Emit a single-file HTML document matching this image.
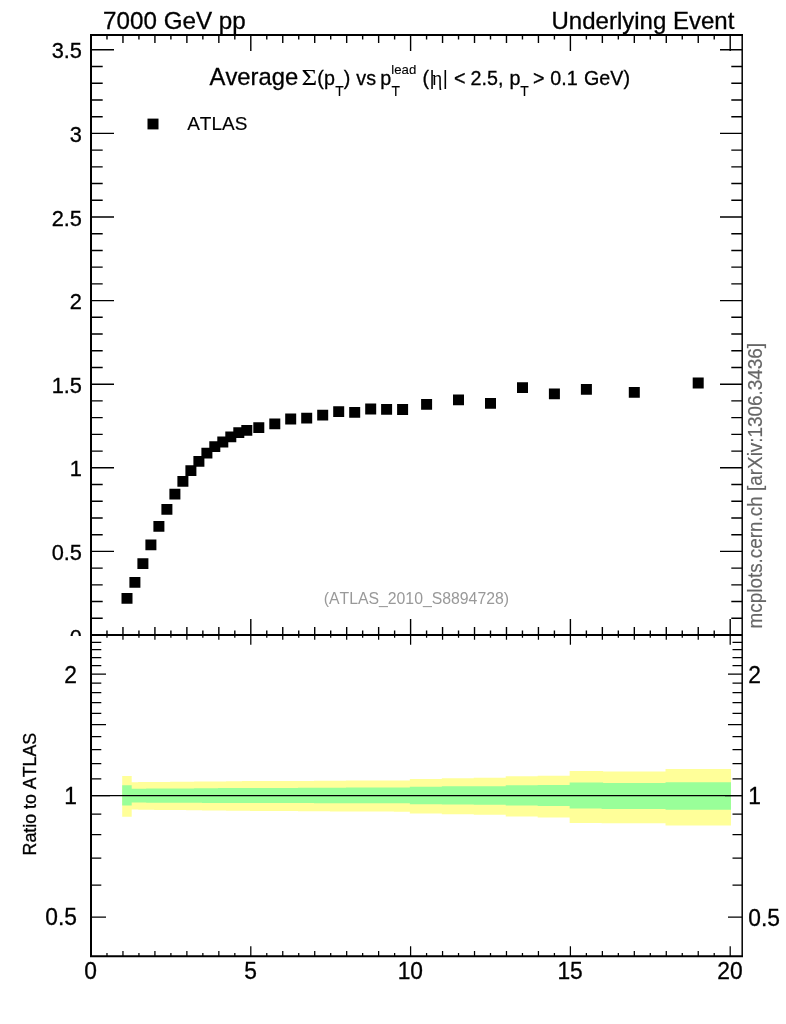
<!DOCTYPE html>
<html lang="en"><head><meta charset="utf-8"><title>Underlying Event - 7000 GeV pp</title>
<style>html,body{margin:0;padding:0;background:#fff;}body{width:786px;height:1024px;overflow:hidden;}svg{display:block;}text{font-family:"Liberation Sans",sans-serif;fill:#000;font-kerning:none;}.sym{font-family:"Liberation Serif",serif;}</style>
</head><body>
<svg width="786" height="1024" viewBox="0 0 786 1024">
<rect x="0" y="0" width="786" height="1024" fill="#ffffff"/>
<path d="M122.21 776.1H131.70V816.8H122.21ZM130.20 782.2H139.69V809.6H130.20ZM138.19 782.1H147.68V809.7H138.19ZM146.18 782.1H155.67V809.8H146.18ZM154.17 782.0H163.66V809.9H154.17ZM162.16 781.9H171.65V810.0H162.16ZM170.15 781.8H179.64V810.0H170.15ZM178.14 781.8H187.63V810.1H178.14ZM186.13 781.7H195.62V810.2H186.13ZM194.12 781.6H203.61V810.3H194.12ZM202.11 781.5H211.60V810.4H202.11ZM210.10 781.5H219.59V810.5H210.10ZM218.09 781.4H227.58V810.6H218.09ZM226.08 781.3H235.57V810.7H226.08ZM234.07 781.2H243.56V810.7H234.07ZM242.06 781.1H251.55V810.8H242.06ZM250.05 781.1H267.53V810.9H250.05ZM266.03 781.0H283.51V811.0H266.03ZM282.01 780.9H299.49V811.1H282.01ZM297.99 780.9H315.47V811.2H297.99ZM313.97 780.8H331.45V811.3H313.97ZM329.95 780.7H347.43V811.4H329.95ZM345.93 780.6H363.41V811.4H345.93ZM361.91 780.5H379.39V811.5H361.91ZM377.89 780.5H395.37V811.6H377.89ZM393.87 780.4H411.35V811.7H393.87ZM409.85 779.1H443.31V813.4H409.85ZM441.81 778.3H475.27V814.2H441.81ZM473.77 777.8H507.23V814.7H473.77ZM505.73 776.3H539.19V816.5H505.73ZM537.69 775.8H571.15V817.4H537.69ZM569.65 771.0H603.11V823.0H569.65ZM601.61 771.5H667.03V823.2H601.61ZM665.53 769.0H730.95V825.5H665.53Z" fill="#ffff99"/>
<path d="M122.21 785.3H131.70V805.6H122.21ZM130.20 788.7H139.69V802.6H130.20ZM138.19 788.7H147.68V802.6H138.19ZM146.18 788.6H155.67V802.7H146.18ZM154.17 788.6H163.66V802.7H154.17ZM162.16 788.5H171.65V802.7H162.16ZM170.15 788.5H179.64V802.7H170.15ZM178.14 788.4H187.63V802.8H178.14ZM186.13 788.4H195.62V802.8H186.13ZM194.12 788.3H203.61V802.8H194.12ZM202.11 788.2H211.60V802.9H202.11ZM210.10 788.2H219.59V802.9H210.10ZM218.09 788.1H227.58V802.9H218.09ZM226.08 788.1H235.57V803.0H226.08ZM234.07 788.1H243.56V803.0H234.07ZM242.06 788.0H251.55V803.0H242.06ZM250.05 788.0H267.53V803.0H250.05ZM266.03 787.9H283.51V803.1H266.03ZM282.01 787.9H299.49V803.1H282.01ZM297.99 787.8H315.47V803.1H297.99ZM313.97 787.8H331.45V803.2H313.97ZM329.95 787.7H347.43V803.2H329.95ZM345.93 787.6H363.41V803.2H345.93ZM361.91 787.6H379.39V803.2H361.91ZM377.89 787.5H395.37V803.3H377.89ZM393.87 787.5H411.35V803.3H393.87ZM409.85 786.7H443.31V804.3H409.85ZM441.81 786.2H475.27V804.5H441.81ZM473.77 786.2H507.23V804.8H473.77ZM505.73 785.2H539.19V805.5H505.73ZM537.69 784.9H571.15V806.0H537.69ZM569.65 782.6H603.11V808.5H569.65ZM601.61 783.0H667.03V809.0H601.61ZM665.53 782.2H730.95V809.7H665.53Z" fill="#99ff99"/>
<line x1="91.0" y1="795.6" x2="742.0" y2="795.6" stroke="#000" stroke-width="1.3"/>
<path d="M106.98 35.00V39.50M106.98 630.50V635.00M122.96 35.00V43.00M122.96 627.00V635.00M138.94 35.00V39.50M138.94 630.50V635.00M154.92 35.00V43.00M154.92 627.00V635.00M170.90 35.00V39.50M170.90 630.50V635.00M186.88 35.00V43.00M186.88 627.00V635.00M202.86 35.00V39.50M202.86 630.50V635.00M218.84 35.00V43.00M218.84 627.00V635.00M234.82 35.00V39.50M234.82 630.50V635.00M250.80 35.00V51.00M250.80 619.00V635.00M266.78 35.00V39.50M266.78 630.50V635.00M282.76 35.00V43.00M282.76 627.00V635.00M298.74 35.00V39.50M298.74 630.50V635.00M314.72 35.00V43.00M314.72 627.00V635.00M330.70 35.00V39.50M330.70 630.50V635.00M346.68 35.00V43.00M346.68 627.00V635.00M362.66 35.00V39.50M362.66 630.50V635.00M378.64 35.00V43.00M378.64 627.00V635.00M394.62 35.00V39.50M394.62 630.50V635.00M410.60 35.00V51.00M410.60 619.00V635.00M426.58 35.00V39.50M426.58 630.50V635.00M442.56 35.00V43.00M442.56 627.00V635.00M458.54 35.00V39.50M458.54 630.50V635.00M474.52 35.00V43.00M474.52 627.00V635.00M490.50 35.00V39.50M490.50 630.50V635.00M506.48 35.00V43.00M506.48 627.00V635.00M522.46 35.00V39.50M522.46 630.50V635.00M538.44 35.00V43.00M538.44 627.00V635.00M554.42 35.00V39.50M554.42 630.50V635.00M570.40 35.00V51.00M570.40 619.00V635.00M586.38 35.00V39.50M586.38 630.50V635.00M602.36 35.00V43.00M602.36 627.00V635.00M618.34 35.00V39.50M618.34 630.50V635.00M634.32 35.00V43.00M634.32 627.00V635.00M650.30 35.00V39.50M650.30 630.50V635.00M666.28 35.00V43.00M666.28 627.00V635.00M682.26 35.00V39.50M682.26 630.50V635.00M698.24 35.00V43.00M698.24 627.00V635.00M714.22 35.00V39.50M714.22 630.50V635.00M730.20 35.00V51.00M730.20 619.00V635.00M91.00 618.28H102.70M731.30 618.28H742.00M91.00 601.56H102.70M731.30 601.56H742.00M91.00 584.84H102.70M731.30 584.84H742.00M91.00 568.12H102.70M731.30 568.12H742.00M91.00 551.40H114.00M720.00 551.40H742.00M91.00 534.68H102.70M731.30 534.68H742.00M91.00 517.96H102.70M731.30 517.96H742.00M91.00 501.24H102.70M731.30 501.24H742.00M91.00 484.52H102.70M731.30 484.52H742.00M91.00 467.80H114.00M720.00 467.80H742.00M91.00 451.08H102.70M731.30 451.08H742.00M91.00 434.36H102.70M731.30 434.36H742.00M91.00 417.64H102.70M731.30 417.64H742.00M91.00 400.92H102.70M731.30 400.92H742.00M91.00 384.20H114.00M720.00 384.20H742.00M91.00 367.48H102.70M731.30 367.48H742.00M91.00 350.76H102.70M731.30 350.76H742.00M91.00 334.04H102.70M731.30 334.04H742.00M91.00 317.32H102.70M731.30 317.32H742.00M91.00 300.60H114.00M720.00 300.60H742.00M91.00 283.88H102.70M731.30 283.88H742.00M91.00 267.16H102.70M731.30 267.16H742.00M91.00 250.44H102.70M731.30 250.44H742.00M91.00 233.72H102.70M731.30 233.72H742.00M91.00 217.00H114.00M720.00 217.00H742.00M91.00 200.28H102.70M731.30 200.28H742.00M91.00 183.56H102.70M731.30 183.56H742.00M91.00 166.84H102.70M731.30 166.84H742.00M91.00 150.12H102.70M731.30 150.12H742.00M91.00 133.40H114.00M720.00 133.40H742.00M91.00 116.68H102.70M731.30 116.68H742.00M91.00 99.96H102.70M731.30 99.96H742.00M91.00 83.24H102.70M731.30 83.24H742.00M91.00 66.52H102.70M731.30 66.52H742.00M91.00 49.80H114.00M720.00 49.80H742.00" stroke="#000" stroke-width="1.4" fill="none"/>
<path d="M106.98 635.00V637.70M106.98 953.00V956.20M122.96 635.00V639.70M122.96 951.10V956.20M138.94 635.00V637.70M138.94 953.00V956.20M154.92 635.00V639.70M154.92 951.10V956.20M170.90 635.00V637.70M170.90 953.00V956.20M186.88 635.00V639.70M186.88 951.10V956.20M202.86 635.00V637.70M202.86 953.00V956.20M218.84 635.00V639.70M218.84 951.10V956.20M234.82 635.00V637.70M234.82 953.00V956.20M250.80 635.00V644.80M250.80 946.30V956.20M266.78 635.00V637.70M266.78 953.00V956.20M282.76 635.00V639.70M282.76 951.10V956.20M298.74 635.00V637.70M298.74 953.00V956.20M314.72 635.00V639.70M314.72 951.10V956.20M330.70 635.00V637.70M330.70 953.00V956.20M346.68 635.00V639.70M346.68 951.10V956.20M362.66 635.00V637.70M362.66 953.00V956.20M378.64 635.00V639.70M378.64 951.10V956.20M394.62 635.00V637.70M394.62 953.00V956.20M410.60 635.00V644.80M410.60 946.30V956.20M426.58 635.00V637.70M426.58 953.00V956.20M442.56 635.00V639.70M442.56 951.10V956.20M458.54 635.00V637.70M458.54 953.00V956.20M474.52 635.00V639.70M474.52 951.10V956.20M490.50 635.00V637.70M490.50 953.00V956.20M506.48 635.00V639.70M506.48 951.10V956.20M522.46 635.00V637.70M522.46 953.00V956.20M538.44 635.00V639.70M538.44 951.10V956.20M554.42 635.00V637.70M554.42 953.00V956.20M570.40 635.00V644.80M570.40 946.30V956.20M586.38 635.00V637.70M586.38 953.00V956.20M602.36 635.00V639.70M602.36 951.10V956.20M618.34 635.00V637.70M618.34 953.00V956.20M634.32 635.00V639.70M634.32 951.10V956.20M650.30 635.00V637.70M650.30 953.00V956.20M666.28 635.00V639.70M666.28 951.10V956.20M682.26 635.00V637.70M682.26 953.00V956.20M698.24 635.00V639.70M698.24 951.10V956.20M714.22 635.00V637.70M714.22 953.00V956.20M730.20 635.00V644.80M730.20 946.30V956.20M91.00 917.00H106.00M728.00 917.00H742.00M91.00 885.07H101.30M732.50 885.07H742.00M91.00 858.07H101.30M732.50 858.07H742.00M91.00 834.68H101.30M732.50 834.68H742.00M91.00 814.05H101.30M732.50 814.05H742.00M91.00 795.60H110.00M725.00 795.60H742.00M91.00 778.91H101.30M732.50 778.91H742.00M91.00 763.67H101.30M732.50 763.67H742.00M91.00 749.65H101.30M732.50 749.65H742.00M91.00 736.67H101.30M732.50 736.67H742.00M91.00 724.59H106.00M728.00 724.59H742.00M91.00 713.28H101.30M732.50 713.28H742.00M91.00 702.66H101.30M732.50 702.66H742.00M91.00 692.65H101.30M732.50 692.65H742.00M91.00 683.18H101.30M732.50 683.18H742.00M91.00 674.20H106.00M728.00 674.20H742.00M91.00 665.65H101.30M732.50 665.65H742.00M91.00 657.51H101.30M732.50 657.51H742.00M91.00 649.72H101.30M732.50 649.72H742.00M91.00 642.27H101.30M732.50 642.27H742.00" stroke="#000" stroke-width="1.25" fill="none"/>
<path d="M743.0 35.0H91.0V956.2H743.0 M91.0 635.0H742.0" stroke="#000" stroke-width="2" fill="none" stroke-linejoin="miter"/>
<path d="M742.2 35.0V956.2" stroke="#000" stroke-width="1.5" fill="none"/>
<path d="M121.5 593.0h11v10.8h-11zM129.4 577.0h11v10.8h-11zM137.4 558.3h11v10.8h-11zM145.4 539.4h11v10.8h-11zM153.4 521.0h11v10.8h-11zM161.4 504.0h11v10.8h-11zM169.4 488.7h11v10.8h-11zM177.4 476.0h11v10.8h-11zM185.4 465.2h11v10.8h-11zM193.4 455.9h11v10.8h-11zM201.4 447.8h11v10.8h-11zM209.3 441.3h11v10.8h-11zM217.3 436.6h11v10.8h-11zM225.3 431.5h11v10.8h-11zM233.3 427.3h11v10.8h-11zM241.3 425.0h11v10.8h-11zM253.3 422.3h11v10.8h-11zM269.3 418.5h11v10.8h-11zM285.2 413.6h11v10.8h-11zM301.2 412.7h11v10.8h-11zM317.2 409.7h11v10.8h-11zM333.2 406.3h11v10.8h-11zM349.2 407.0h11v10.8h-11zM365.2 403.6h11v10.8h-11zM381.1 404.0h11v10.8h-11zM397.1 404.1h11v10.8h-11zM421.1 399.0h11v10.8h-11zM453.0 394.4h11v10.8h-11zM485.0 398.0h11v10.8h-11zM517.0 382.3h11v10.8h-11zM548.9 388.5h11v10.8h-11zM580.9 384.0h11v10.8h-11zM628.8 387.0h11v10.8h-11zM692.7 377.6h11v10.8h-11z" fill="#000"/>
<rect x="147.5" y="118.6" width="11" height="10.8" fill="#000"/>
<text transform="translate(103.1 28.9)" font-size="24.2" style="fill:#000;stroke:#000;stroke-width:0.3px">7000 GeV pp</text>
<text transform="translate(734.3 28.9)" font-size="24" text-anchor="end" style="fill:#000;stroke:#000;stroke-width:0.3px">Underlying Event</text>
<text transform="translate(209.6 84.6)" font-size="23.8" style="fill:#000;stroke:#000;stroke-width:0.3px">Average</text>
<text transform="translate(301.5 85.0) scale(1.14 1.0)" font-size="23.6" class="sym" style="fill:#000;stroke:#000;stroke-width:0.05px">Σ</text>
<text transform="translate(317.2 85.3) scale(1.0 1.03)" font-size="19.7" style="fill:#000;stroke:#000;stroke-width:0.3px">(</text>
<text transform="translate(324.1 85.3) scale(1.0 1.03)" font-size="19.7" style="fill:#000;stroke:#000;stroke-width:0.3px">p</text>
<text transform="translate(335.2 96.0)" font-size="13.9" style="fill:#000;stroke:#000;stroke-width:0.12px">T</text>
<text transform="translate(343.7 85.3) scale(1.0 1.03)" font-size="19.7" style="fill:#000;stroke:#000;stroke-width:0.3px">)</text>
<text transform="translate(356.3 85.3) scale(1.0 1.03)" font-size="19.7" style="fill:#000;stroke:#000;stroke-width:0.3px">vs</text>
<text transform="translate(380.3 85.3) scale(1.0 1.03)" font-size="19.7" style="fill:#000;stroke:#000;stroke-width:0.3px">p</text>
<text transform="translate(391.4 96.0)" font-size="13.9" style="fill:#000;stroke:#000;stroke-width:0.12px">T</text>
<text transform="translate(391.3 74.0)" font-size="13.2" style="fill:#000;stroke:#000;stroke-width:0.12px">lead</text>
<text transform="translate(422.6 85.3) scale(1.0 1.03)" font-size="19.7" style="fill:#000;stroke:#000;stroke-width:0.3px">(</text>
<text transform="translate(429.6 85.3) scale(1.0 1.03)" font-size="19.7" style="fill:#000;stroke:#000;stroke-width:0px">|</text>
<text transform="translate(432.0 85.3) scale(1.0 1.03)" font-size="19.7" class="sym" style="fill:#000;stroke:#000;stroke-width:0px">η</text>
<text transform="translate(442.8 85.3) scale(1.0 1.03)" font-size="19.7" style="fill:#000;stroke:#000;stroke-width:0px">|</text>
<text transform="translate(454.0 85.3) scale(1.0 1.03)" font-size="19.7" style="fill:#000;stroke:#000;stroke-width:0.3px">&lt;</text>
<text transform="translate(470.6 85.3) scale(1.0 1.03)" font-size="19.7" style="fill:#000;stroke:#000;stroke-width:0.3px">2.5,</text>
<text transform="translate(509.6 85.3) scale(1.0 1.03)" font-size="19.7" style="fill:#000;stroke:#000;stroke-width:0.3px">p</text>
<text transform="translate(520.2 96.0)" font-size="13.9" style="fill:#000;stroke:#000;stroke-width:0.12px">T</text>
<text transform="translate(533 85.3) scale(1.0 1.03)" font-size="19.7" style="fill:#000;stroke:#000;stroke-width:0.3px">&gt;</text>
<text transform="translate(550.3 85.3) scale(1.0 1.03)" font-size="19.7" style="fill:#000;stroke:#000;stroke-width:0.3px">0.1</text>
<text transform="translate(584 85.3) scale(1.0 1.03)" font-size="19.7" style="fill:#000;stroke:#000;stroke-width:0.3px">GeV)</text>
<text transform="translate(187.2 129.5)" font-size="19.0" style="fill:#000;stroke:#000;stroke-width:0.15px">ATLAS</text>
<text transform="translate(323.7 603.9)" font-size="15.8" style="fill:#999999;stroke:#999999;stroke-width:0px">(ATLAS_2010_S8894728)</text>
<text transform="translate(762.1 628.5) rotate(-90) scale(1.0 1.07)" font-size="18.9" style="fill:#666666;stroke:#666666;stroke-width:0.15px">mcplots.cern.ch [arXiv:1306.3436]</text>
<text transform="translate(36.3 855.4) rotate(-90) scale(1.0 1.06)" font-size="17.8" style="fill:#000;stroke:#000;stroke-width:0.3px">Ratio to ATLAS</text>
<clipPath id="cm"><rect x="0" y="0" width="786" height="636"/></clipPath>
<g clip-path="url(#cm)">
<text transform="translate(82.0 58.4) scale(1.0 1.045)" font-size="21.8" text-anchor="end" style="fill:#000;stroke:#000;stroke-width:0.3px">3.5</text>
<text transform="translate(82.0 142.0) scale(1.0 1.045)" font-size="21.8" text-anchor="end" style="fill:#000;stroke:#000;stroke-width:0.3px">3</text>
<text transform="translate(82.0 225.6) scale(1.0 1.045)" font-size="21.8" text-anchor="end" style="fill:#000;stroke:#000;stroke-width:0.3px">2.5</text>
<text transform="translate(82.0 309.2) scale(1.0 1.045)" font-size="21.8" text-anchor="end" style="fill:#000;stroke:#000;stroke-width:0.3px">2</text>
<text transform="translate(82.0 392.8) scale(1.0 1.045)" font-size="21.8" text-anchor="end" style="fill:#000;stroke:#000;stroke-width:0.3px">1.5</text>
<text transform="translate(82.0 476.4) scale(1.0 1.045)" font-size="21.8" text-anchor="end" style="fill:#000;stroke:#000;stroke-width:0.3px">1</text>
<text transform="translate(82.0 560.0) scale(1.0 1.045)" font-size="21.8" text-anchor="end" style="fill:#000;stroke:#000;stroke-width:0.3px">0.5</text>
<text transform="translate(81.8 644.8) scale(1.0 1.045)" font-size="21.8" text-anchor="end" style="fill:#000;stroke:#000;stroke-width:0.3px">0</text>
</g>
<text transform="translate(77.0 682.5) scale(1.0 1.02)" font-size="22.8" text-anchor="end" style="fill:#000;stroke:#000;stroke-width:0.3px">2</text>
<text transform="translate(748.3 683.0) scale(1.0 1.02)" font-size="22.8" style="fill:#000;stroke:#000;stroke-width:0.3px">2</text>
<text transform="translate(77.0 803.9) scale(1.0 1.02)" font-size="22.8" text-anchor="end" style="fill:#000;stroke:#000;stroke-width:0.3px">1</text>
<text transform="translate(748.3 804.4) scale(1.0 1.02)" font-size="22.8" style="fill:#000;stroke:#000;stroke-width:0.3px">1</text>
<text transform="translate(77.0 925.3) scale(1.0 1.02)" font-size="22.8" text-anchor="end" style="fill:#000;stroke:#000;stroke-width:0.3px">0.5</text>
<text transform="translate(748.3 925.8) scale(1.0 1.02)" font-size="22.8" style="fill:#000;stroke:#000;stroke-width:0.3px">0.5</text>
<text transform="translate(90.7 978.6) scale(1.0 1.02)" font-size="22.8" text-anchor="middle" style="fill:#000;stroke:#000;stroke-width:0.3px">0</text>
<text transform="translate(250.5 978.6) scale(1.0 1.02)" font-size="22.8" text-anchor="middle" style="fill:#000;stroke:#000;stroke-width:0.3px">5</text>
<text transform="translate(410.3 978.6) scale(1.0 1.02)" font-size="22.8" text-anchor="middle" style="fill:#000;stroke:#000;stroke-width:0.3px">10</text>
<text transform="translate(570.1 978.6) scale(1.0 1.02)" font-size="22.8" text-anchor="middle" style="fill:#000;stroke:#000;stroke-width:0.3px">15</text>
<text transform="translate(729.9 978.6) scale(1.0 1.02)" font-size="22.8" text-anchor="middle" style="fill:#000;stroke:#000;stroke-width:0.3px">20</text>
</svg></body></html>
